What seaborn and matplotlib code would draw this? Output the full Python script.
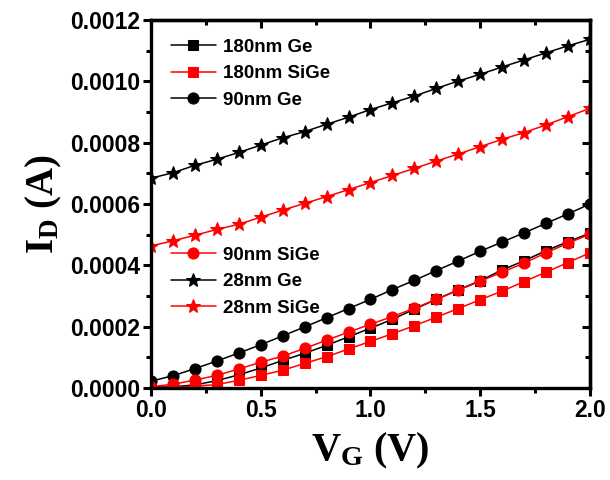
import numpy as np
import pandas as pd
import seaborn as sns
import matplotlib
matplotlib.use("Agg")
import matplotlib.pyplot as plt
from matplotlib.ticker import MultipleLocator, FormatStrFormatter

# -----------------------------
# DATA
# -----------------------------
vg = [0.0, 0.1, 0.2, 0.3, 0.4, 0.5, 0.6, 0.7, 0.8, 0.9, 1.0,
      1.1, 1.2, 1.3, 1.4, 1.5, 1.6, 1.7, 1.8, 1.9, 2.0]

ge_180 = [0.000002, 0.000004, 0.000010, 0.000024, 0.000043, 0.000065, 0.000090,
          0.000113, 0.000139, 0.000167, 0.000195, 0.000224, 0.000257, 0.000289,
          0.000320, 0.000350, 0.000385, 0.000415, 0.000448, 0.000477, 0.000505]

sige_180 = [0.000002, 0.000003, 0.000006, 0.000011, 0.000025, 0.000041, 0.000058,
            0.000080, 0.000102, 0.000127, 0.000152, 0.000177, 0.000203, 0.000231,
            0.000259, 0.000288, 0.000316, 0.000347, 0.000378, 0.000409, 0.000441]

ge_90 = [0.000022, 0.000040, 0.000063, 0.000088, 0.000114, 0.000141, 0.000170,
         0.000199, 0.000229, 0.000259, 0.000289, 0.000321, 0.000351, 0.000383,
         0.000414, 0.000446, 0.000476, 0.000506, 0.000537, 0.000568, 0.000600]

sige_90 = [0.000004, 0.000012, 0.000026, 0.000041, 0.000062, 0.000084, 0.000104,
           0.000129, 0.000156, 0.000182, 0.000208, 0.000233, 0.000260, 0.000289,
           0.000319, 0.000348, 0.000378, 0.000407, 0.000441, 0.000472, 0.000502]

ge_28 = [0.000684, 0.000702, 0.000726, 0.000746, 0.000768, 0.000792, 0.000816,
         0.000836, 0.000860, 0.000883, 0.000908, 0.000930, 0.000952, 0.000977,
         0.001001, 0.001023, 0.001047, 0.001070, 0.001093, 0.001116, 0.001137]

sige_28 = [0.000463, 0.000480, 0.000498, 0.000517, 0.000534, 0.000557, 0.000580,
           0.000602, 0.000624, 0.000647, 0.000670, 0.000693, 0.000716, 0.000740,
           0.000763, 0.000787, 0.000811, 0.000833, 0.000858, 0.000885, 0.000912]

labels = ["180nm Ge", "180nm SiGe", "90nm Ge", "90nm SiGe", "28nm Ge", "28nm SiGe"]
series = [ge_180, sige_180, ge_90, sige_90, ge_28, sige_28]
colors = ["black", "red", "black", "red", "black", "red"]
markers = ["s", "s", "o", "o", "*", "*"]
msizes = [6.5, 6.5, 8, 8, 10, 10]

# -----------------------------
# STYLE
# -----------------------------
sns.set_style("ticks")
plt.rcParams["font.family"] = ["Liberation Sans", "DejaVu Sans"]
plt.rcParams["font.weight"] = "bold"
plt.rcParams["text.color"] = "black"
plt.rcParams["axes.labelcolor"] = "black"
plt.rcParams["axes.edgecolor"] = "black"
plt.rcParams["xtick.color"] = "black"
plt.rcParams["ytick.color"] = "black"
plt.rcParams["mathtext.fontset"] = "custom"
plt.rcParams["mathtext.rm"] = "Liberation Serif:bold"
plt.rcParams["mathtext.bf"] = "Liberation Serif:bold"
plt.rcParams["mathtext.it"] = "Liberation Serif:bold"

fig = plt.figure(figsize=(6.1, 4.8), dpi=100)
ax = fig.add_axes([0.2475, 0.1917, 0.7197, 0.7666])

# -----------------------------
# PLOT
# -----------------------------
for lab, ys, c, m, ms in zip(labels, series, colors, markers, msizes):
    sns.lineplot(x=vg, y=ys, ax=ax, color=c, marker=m, markersize=ms,
                 markeredgecolor=c, linewidth=1.1, label=lab)

ax.set_xlim(0, 2.0)
ax.set_ylim(0, 0.0012)

ax.xaxis.set_major_locator(MultipleLocator(0.5))
ax.xaxis.set_minor_locator(MultipleLocator(0.25))
ax.yaxis.set_major_locator(MultipleLocator(0.0002))
ax.yaxis.set_minor_locator(MultipleLocator(0.0001))
ax.xaxis.set_major_formatter(FormatStrFormatter("%.1f"))
ax.yaxis.set_major_formatter(FormatStrFormatter("%.4f"))

ax.tick_params(which="major", direction="out", length=6, width=2.2,
               labelsize=16.5, pad=2, colors="black")
ax.tick_params(which="minor", direction="out", length=3.5, width=2.2, colors="black")
for lbl in ax.get_xticklabels() + ax.get_yticklabels():
    lbl.set_fontweight("bold")

for sp in ax.spines.values():
    sp.set_linewidth(2.4)
    sp.set_color("black")
    sp.set_visible(True)

# mirrored inward ticks on top / right
top = ax.secondary_xaxis("top")
top.xaxis.set_major_locator(MultipleLocator(0.5))
top.xaxis.set_minor_locator(MultipleLocator(0.25))
top.tick_params(which="major", direction="in", length=6, width=2.2, labeltop=False)
top.tick_params(which="minor", direction="in", length=3.5, width=2.2)
top.spines["top"].set_linewidth(2.4)
right = ax.secondary_yaxis("right")
right.yaxis.set_major_locator(MultipleLocator(0.0002))
right.yaxis.set_minor_locator(MultipleLocator(0.0001))
right.tick_params(which="major", direction="in", length=6, width=2.2, labelright=False)
right.tick_params(which="minor", direction="in", length=3.5, width=2.2)
right.spines["right"].set_linewidth(2.4)

ax.set_xlabel(r"$\mathbf{V_G}$ (V)", fontsize=29, fontweight="bold",
              family="Liberation Serif", labelpad=6)
ax.set_ylabel(r"$\mathbf{I_D}$ (A)", fontsize=28, fontweight="bold",
              family="Liberation Serif", labelpad=4)

# -----------------------------
# LEGENDS (two blocks)
# -----------------------------
handles, labs = ax.get_legend_handles_labels()
leg_font = {"weight": "bold", "size": 13.5}
leg1 = ax.legend(handles[:3], labs[:3], loc="upper left", bbox_to_anchor=(0.015, 0.985),
                 frameon=False, prop=leg_font, handlelength=2.4,
                 labelspacing=0.5, handletextpad=0.4, borderaxespad=0.3,
                 labelcolor="black")
ax.add_artist(leg1)
ax.legend(handles[3:], labs[3:], loc="upper left", bbox_to_anchor=(0.015, 0.42),
          frameon=False, prop=leg_font, handlelength=2.4,
          labelspacing=0.5, handletextpad=0.4, borderaxespad=0.3,
          labelcolor="black")

fig.savefig("out.png", dpi=100)
